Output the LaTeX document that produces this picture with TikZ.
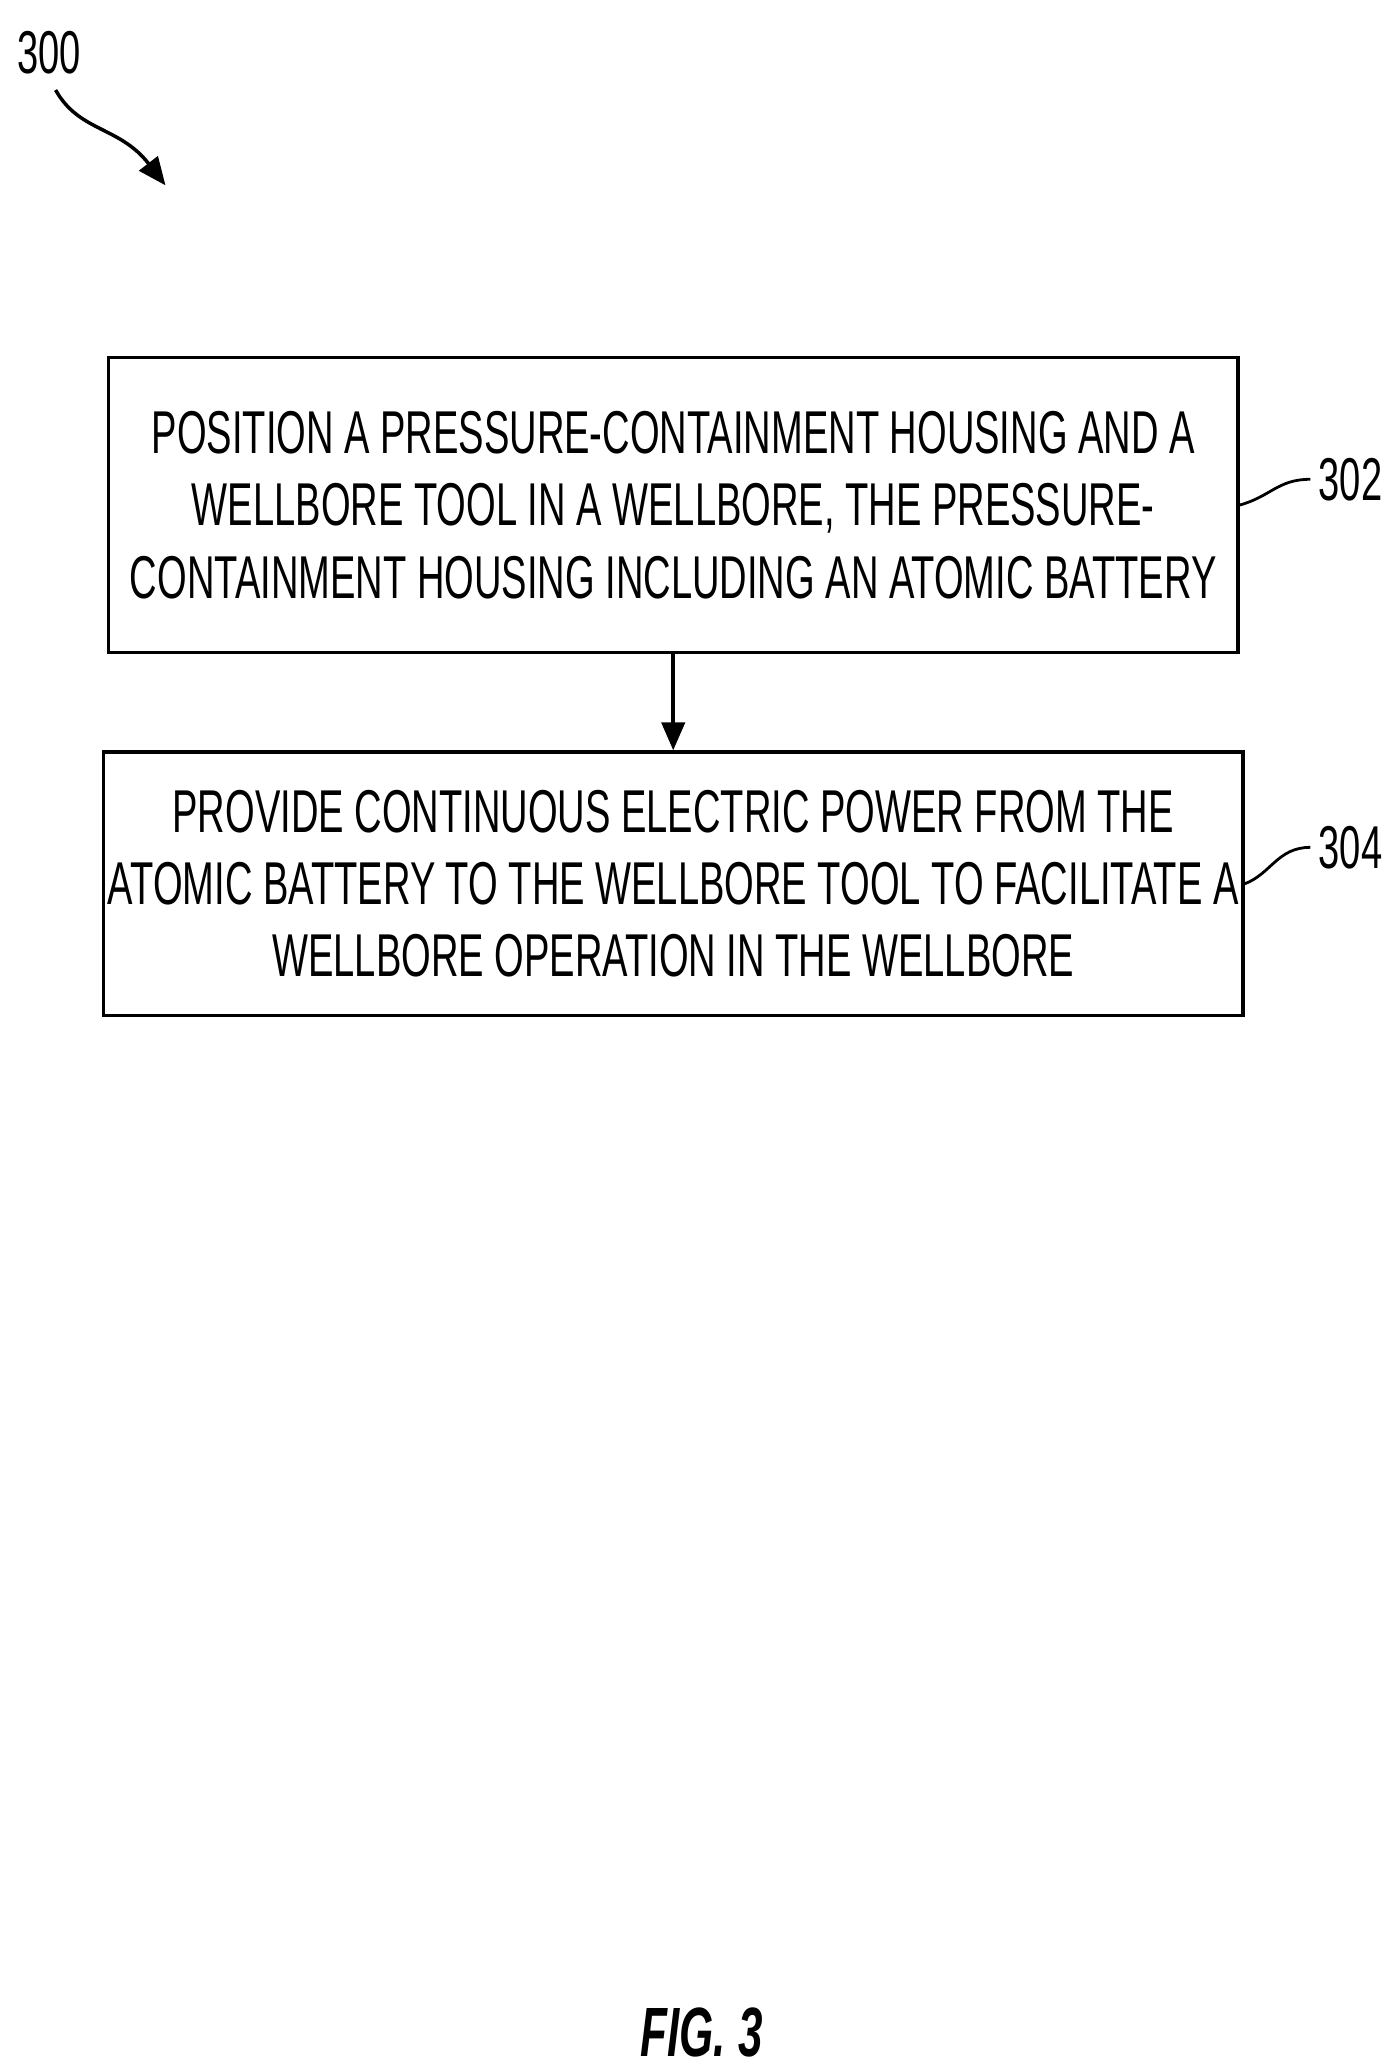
\documentclass[tikz,border=0pt]{standalone}
\usepackage{fontspec}
\setmainfont{Liberation Sans}[FakeStretch=0.63]
\usetikzlibrary{arrows.meta, positioning}
\begin{document}
\begin{tikzpicture}[x=0.02cm, y=-0.02cm,
    stepbox/.style={rectangle, draw, line width=1.5pt, minimum width=17.06cm, inner xsep=2pt, align=center, font=\fontsize{26}{31}\selectfont},
    arrow/.style={-{Triangle[length=12pt,width=10pt]}, line width=1.5pt},
    lead/.style={line width=1.2pt},
    ref/.style={font=\fontsize{26}{31}\selectfont}
]
\useasboundingbox (0,0) rectangle (1054,1562);

% reference numeral and arrow
\node[ref] (fignum) at (37,40) {300};
\draw[arrow] (42,68) .. controls (60,100) and (90,95) .. (125,140);

% steps
\node[stepbox, minimum height=4.46cm] (s302) at (508.5,381.5) {POSITION A PRESSURE-CONTAINMENT HOUSING AND A\\WELLBORE TOOL IN A WELLBORE, THE PRESSURE-\\CONTAINMENT HOUSING INCLUDING AN ATOMIC BATTERY};
\node[stepbox, minimum height=3.98cm] (s304) at (508.5,667.5) {PROVIDE CONTINUOUS ELECTRIC POWER FROM THE\\ATOMIC BATTERY TO THE WELLBORE TOOL TO FACILITATE A\\WELLBORE OPERATION IN THE WELLBORE};
\draw[arrow] (s302) -- (s304);

% labels
\node[ref] (l302) at (1020,362) {302};
\node[ref] (l304) at (1020,640) {304};
\draw[lead] (s302.east) .. controls (960,375) and (965,362) .. (l302.west);
\draw[lead] (s304.east) .. controls (960,660) and (965,640) .. (l304.west);

\node[font=\fontsize{30}{36}\selectfont\bfseries\itshape] (cap) at (530,1535) {FIG. 3};
\end{tikzpicture}
\end{document}
